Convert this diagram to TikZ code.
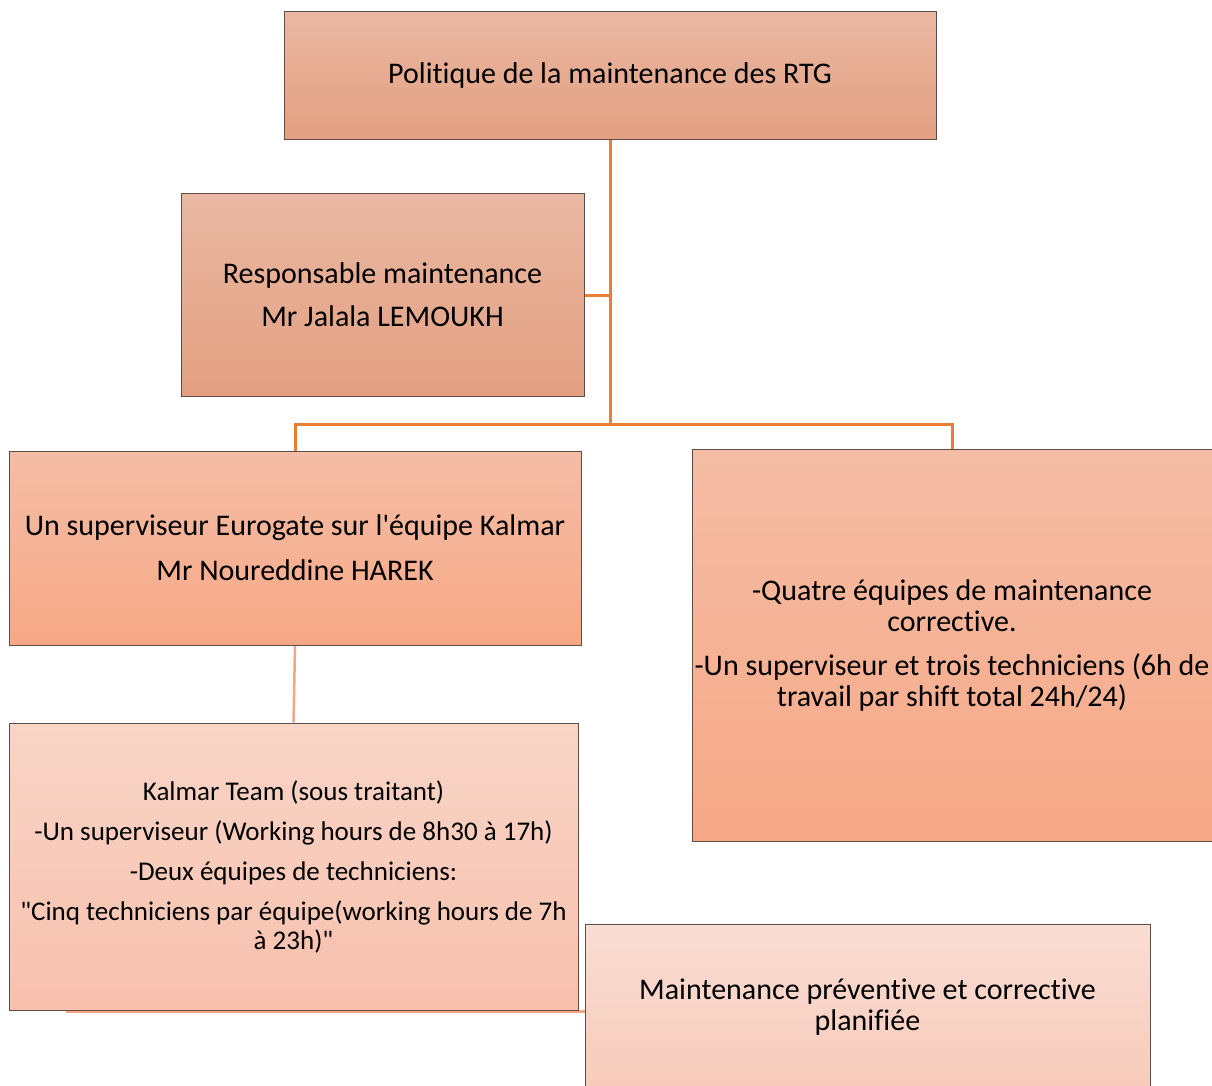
\documentclass[tikz,border=0pt]{standalone}
\usepackage{fontspec}
\setmainfont{Carlito}[Ligatures={TeXOff,NoCommon,NoContextual}, RawFeature={-liga;-clig}]
\usepackage{xcolor}
\usetikzlibrary{positioning,calc,backgrounds}
\definecolor{linkorange}{HTML}{ED7D31}
\definecolor{linksoft}{HTML}{F4A582}
\definecolor{edgebrown}{HTML}{5E4D46}
\definecolor{darktop}{HTML}{E9B8A2}
\definecolor{darkbot}{HTML}{E39F81}
\definecolor{midtop}{HTML}{F5BDA6}
\definecolor{midbot}{HTML}{F6A886}
\definecolor{lighttop}{HTML}{F8D5C7}
\definecolor{lightbot}{HTML}{F8C0AD}
\definecolor{palebot}{HTML}{F7CBBB}
\definecolor{paletop}{HTML}{F9DDD3}
\tikzset{
  orgbox/.style={draw=edgebrown, line width=1pt, align=center, inner sep=2pt, font=\fontsize{30}{31}\selectfont},
  headbox/.style={orgbox, top color=darktop, bottom color=darkbot},
  teambox/.style={orgbox, top color=midtop, bottom color=midbot},
  subbox/.style={orgbox, top color=lighttop, bottom color=lightbot, font=\fontsize{27}{29}\selectfont},
  planbox/.style={orgbox, top color=paletop, bottom color=palebot},
  link/.style={draw=linkorange, line width=3pt},
  softlink/.style={draw=linksoft, line width=2.5pt}
}
\begin{document}
\begin{tikzpicture}[x=1pt, y=-1pt]
  \useasboundingbox (0,0) rectangle (1212,1086);
  \begin{scope}
  \clip (0,0) rectangle (1212,1086);
  \node[headbox, minimum width=652pt, minimum height=128pt] (politique) at (610,76) {Politique de la maintenance des RTG};
  \node[headbox, minimum width=403pt, minimum height=202pt] (resp) at (382.5,295) {Responsable maintenance\\[12pt]Mr Jalala LEMOUKH};
  \node[teambox, minimum width=572pt, minimum height=194pt] (sup) at (295,548) {Un superviseur Eurogate sur l'équipe Kalmar\\[14pt]Mr Noureddine HAREK};
  \node[teambox, minimum width=520pt, minimum height=392pt] (equipes) at (952,645) {-Quatre équipes de maintenance\\corrective.\\[13pt]-Un superviseur et trois techniciens (6h de\\travail par shift total 24h/24)};
  \node[subbox, minimum width=569pt, minimum height=287pt] (kalmar) at (293.5,866.5) {Kalmar Team (sous traitant)\\[11pt]-Un superviseur (Working hours de 8h30 à 17h)\\[11pt]-Deux équipes de techniciens:\\[11pt]"Cinq techniciens par équipe(working hours de 7h\\à 23h)"};
  \node[planbox, minimum width=565pt, minimum height=166pt] (maint) at (867.5,1007) {Maintenance préventive et corrective\\planifiée};

  \begin{scope}[on background layer]
    \coordinate (bus) at (politique.south |- 0,424);
    \draw[link] (politique.south) -- (bus);
    \draw[link] (resp.east) -- (resp.east -| politique.south);
    \draw[link] (sup.north) |- (bus) -| (equipes.north);
    \draw[softlink] (sup.south) -- (kalmar.north);
    \draw[softlink] ([xshift=57pt, yshift=-1pt]kalmar.south west) -- ([yshift=-1pt]kalmar.south -| maint.west);
  \end{scope}
  \end{scope}
\end{tikzpicture}
\end{document}
